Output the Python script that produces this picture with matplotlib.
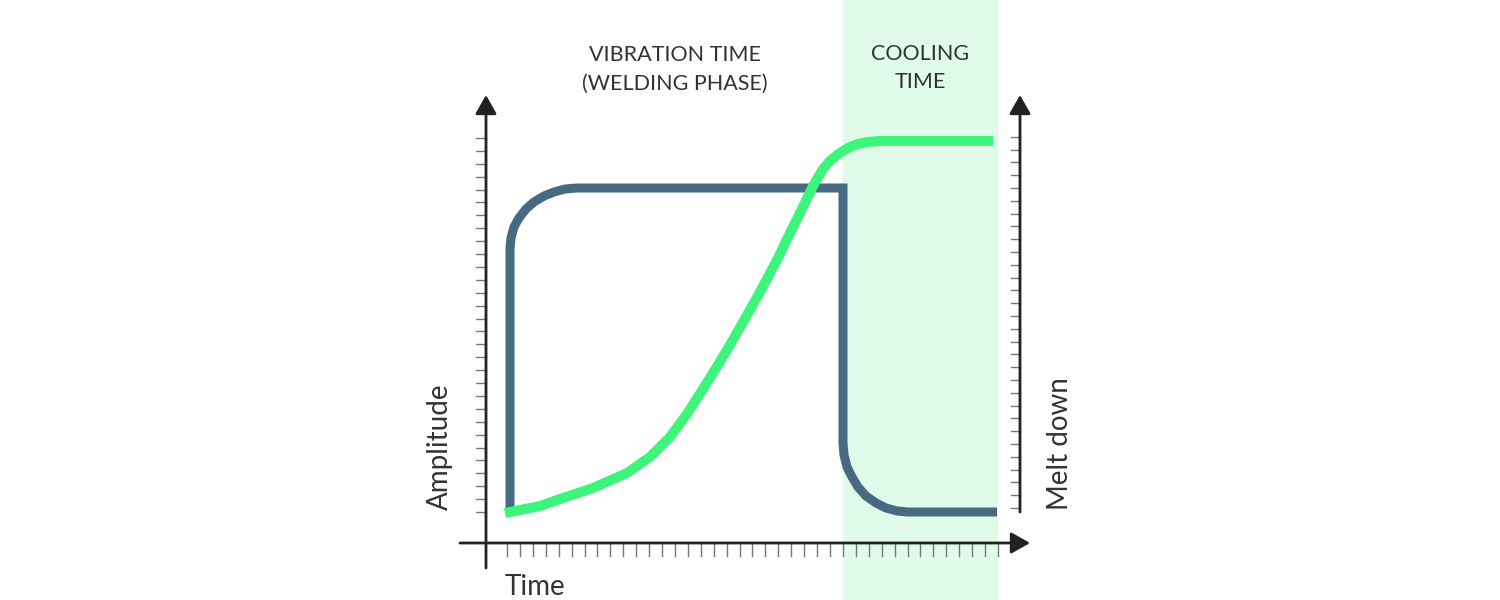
import numpy as np
import matplotlib
matplotlib.use('Agg')
import matplotlib.pyplot as plt

plt.rcParams['font.family'] = ['Lato', 'DejaVu Sans']

# units: x = time from the axes origin, y = value above the time axis
amp_x = [24, 24, 25, 28, 33, 40, 48, 58, 68, 79, 91,
         357, 357, 358, 361, 366, 372, 380, 390, 400, 411, 422, 511]
amp_y = [36, 296, 306, 317, 326, 335, 342, 348, 352, 355, 356,
         356, 101, 89, 77, 67, 57, 48, 41, 36, 33, 32, 32]

melt_x = [19, 54, 74, 107, 141, 164, 184, 201, 217, 232, 244, 256, 269, 281,
          293, 304, 316, 327, 337, 344, 351, 357, 364, 372, 381, 394, 507]
melt_y = [31, 38, 45, 56, 71, 87, 107, 130, 155, 179, 199, 220, 243, 265,
          288, 311, 335, 358, 375, 383, 389, 393, 397, 400, 402, 403, 403]

cooling_start = 357
cooling_end = 511

phase_labels = ['VIBRATION TIME\n(WELDING PHASE)', 'COOLING\nTIME']
axis_labels = ['Amplitude', 'Time', 'Melt down']

blue = '#466a80'
green = '#3ef57c'
band = '#e0fbe9'
ink = '#222222'
tick_col = '#777777'

fig = plt.figure(figsize=(15, 6), dpi=100)
ax = fig.add_axes([0, 0, 1, 1])
ax.set_xlim(-486, 1014)
ax.set_ylim(-56, 544)
ax.axis('off')

# cooling band
ax.axvspan(cooling_start, cooling_end, color=band, zorder=0)

# axes with arrows
arrow = dict(arrowstyle='-|>,head_length=11.5,head_width=6.5', mutation_scale=1,
             lw=2, color=ink, shrinkA=0, shrinkB=0)
ax.annotate('', xy=(0, 449), xytext=(0, -24), arrowprops=arrow, zorder=3)
ax.annotate('', xy=(544, 1), xytext=(-26, 1), arrowprops=arrow, zorder=3)
ax.annotate('', xy=(534, 449), xytext=(534, 32), arrowprops=arrow, zorder=3)

# tick marks
for y in np.arange(30) * 12.9 + 32:
    ax.plot([-10, 0], [y, y], color=tick_col, lw=1, zorder=2)
for y in np.arange(30) * 12.8 + 36:
    ax.plot([525, 534], [y, y], color=tick_col, lw=1, zorder=2)
for x in np.arange(39) * 12.92 + 21:
    ax.plot([x, x], [0, -12], color=tick_col, lw=1, zorder=2)

# curves
ax.plot(amp_x, amp_y, color=blue, lw=6.5, solid_joinstyle='miter',
        solid_capstyle='butt', zorder=4)
ax.plot(melt_x, melt_y, color=green, lw=7.2, solid_joinstyle='round',
        solid_capstyle='butt', zorder=5)

# texts
txt = dict(fontweight='normal', color='#333333')
ax.text(189, 475, phase_labels[0], ha='center', va='center', fontsize=15.5,
        linespacing=1.55, **txt)
ax.text(434, 476, phase_labels[1], ha='center', va='center', fontsize=15.5,
        linespacing=1.45, **txt)
ax.text(-46, 97, axis_labels[0], rotation=90, ha='center', va='center',
        fontsize=20, **txt)
ax.text(49, -43, axis_labels[1], ha='center', va='center', fontsize=20, **txt)
ax.text(574, 100, axis_labels[2], rotation=90, ha='center', va='center',
        fontsize=20, **txt)

fig.savefig('out.png', dpi=100)
